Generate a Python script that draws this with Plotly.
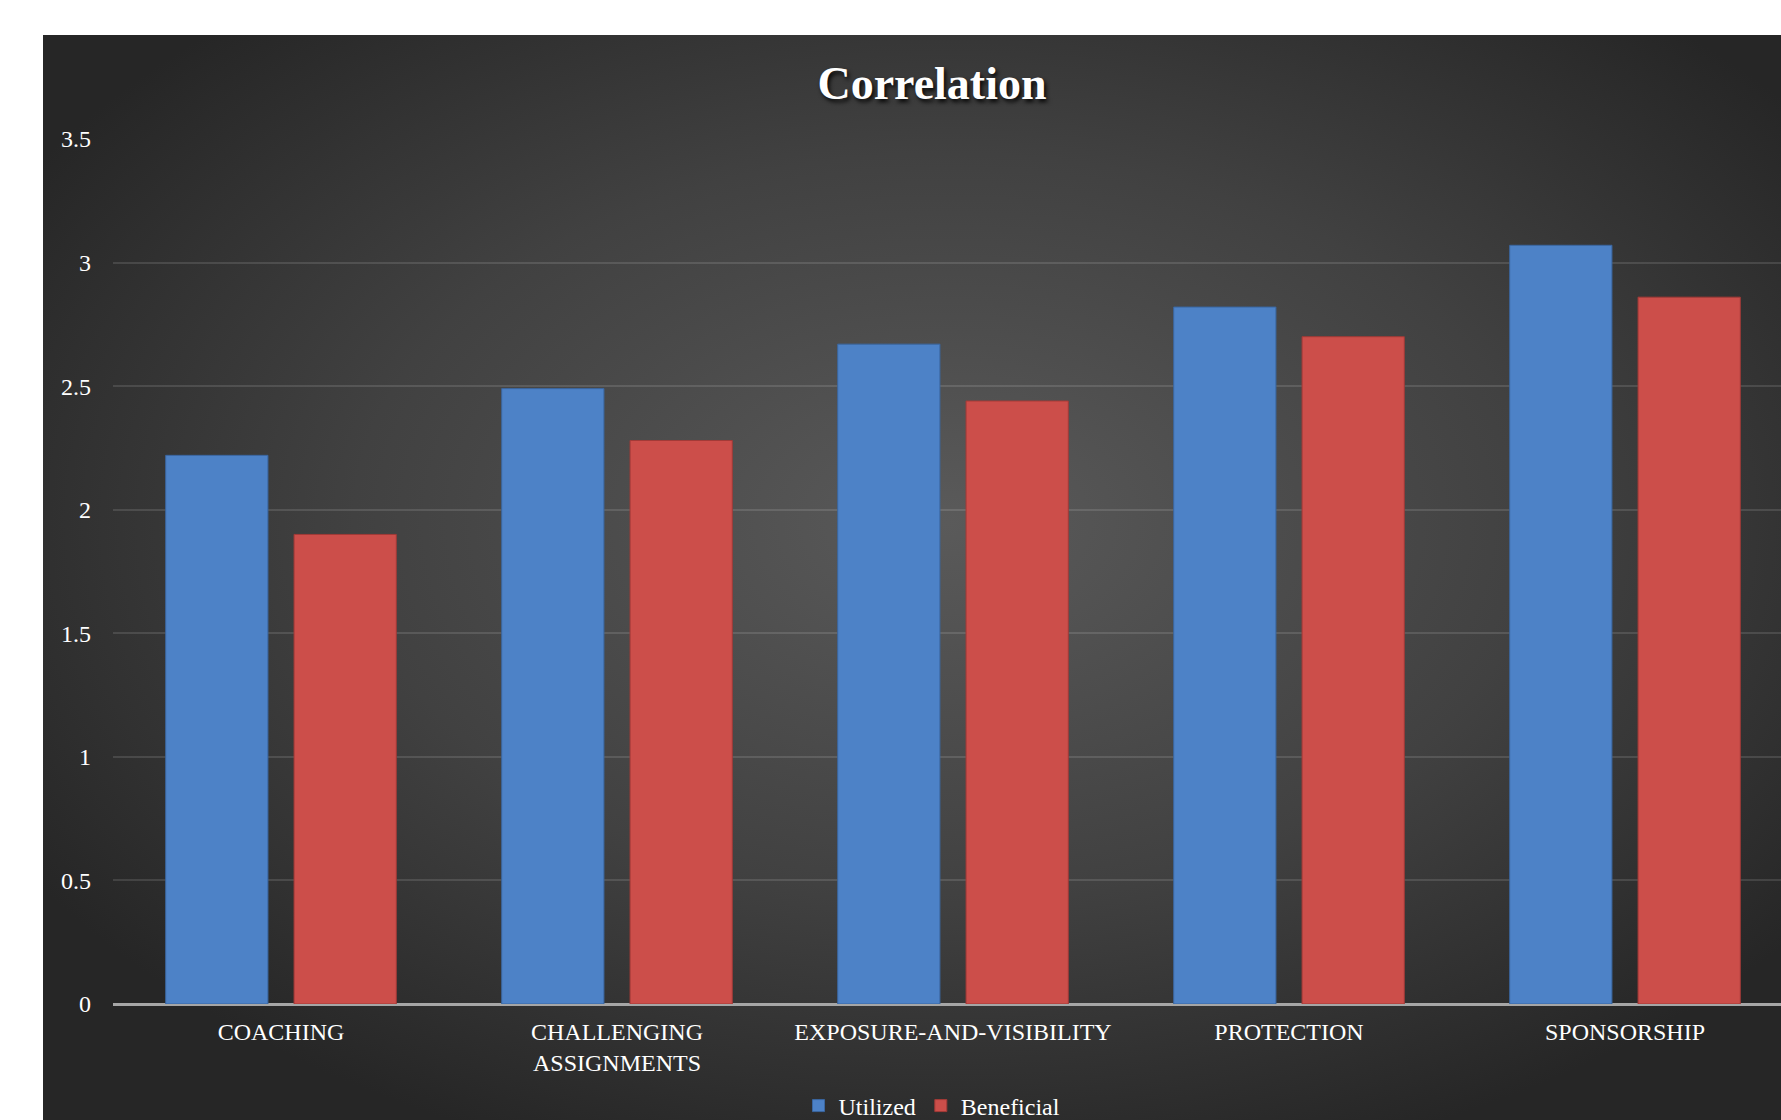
import base64
import plotly.graph_objects as go

categories = ["COACHING", "CHALLENGING<br>ASSIGNMENTS", "EXPOSURE-AND-VISIBILITY", "PROTECTION", "SPONSORSHIP"]
utilized = [2.22, 2.49, 2.67, 2.82, 3.07]
beneficial = [1.90, 2.28, 2.44, 2.70, 2.86]
y_ticks = [0, 0.5, 1, 1.5, 2, 2.5, 3, 3.5]

W, H = 1781, 1120
ML, MR, MT, MB = 113, 0, 139, 116
pw, ph = W - ML - MR, H - MT - MB

svg = (
    '<svg xmlns="http://www.w3.org/2000/svg" width="1000" height="1000" preserveAspectRatio="none">'
    '<defs><radialGradient id="g" cx="0.52" cy="0.45" r="0.62">'
    '<stop offset="0" stop-color="#5a5a5a"/><stop offset="0.55" stop-color="#414141"/>'
    '<stop offset="1" stop-color="#262626"/></radialGradient></defs>'
    '<rect width="1000" height="1000" fill="url(#g)"/></svg>'
)
svg_uri = "data:image/svg+xml;base64," + base64.b64encode(svg.encode()).decode()

font_fam = "Liberation Serif, Times New Roman, serif"

fig = go.Figure()
fig.add_trace(go.Bar(
    x=categories, y=utilized, name="Utilized",
    marker=dict(color="#4d82c7", line=dict(color="#3a66a0", width=1)),
))
fig.add_trace(go.Bar(
    x=categories, y=beneficial, name="Beneficial",
    marker=dict(color="#cc4e4a", line=dict(color="#a33a37", width=1)),
))

panel_left, panel_top = 43, 35
fig.add_layout_image(dict(
    source=svg_uri, xref="paper", yref="paper",
    x=(panel_left - ML) / pw, y=1 + (MT - panel_top) / ph,
    sizex=(W - panel_left) / pw, sizey=(H - panel_top) / ph,
    sizing="stretch", xanchor="left", yanchor="top", layer="below",
))

fig.update_layout(
    width=W, height=H,
    margin=dict(l=ML, r=MR, t=MT, b=MB, pad=0, autoexpand=False),
    paper_bgcolor="white", plot_bgcolor="rgba(0,0,0,0)",
    barmode="group", bargap=0.236, bargroupgap=0.2035,
    font=dict(family=font_fam, color="white", size=24),
    title=dict(
        text="<b>Correlation</b>", x=(932 - ML) / pw, xref="paper", xanchor="center",
        y=1 - 83 / H, yref="container", yanchor="middle",
        font=dict(family=font_fam, size=46, color="white", shadow="2px 3px 4px rgba(0,0,0,0.9)"),
    ),
    showlegend=True,
    legend=dict(
        orientation="h", x=(932 - ML) / pw, xanchor="center", y=(1004 - 1106) / ph, yanchor="middle",
        yref="paper", bgcolor="rgba(0,0,0,0)", font=dict(size=24, color="white", family=font_fam),
        itemwidth=30, traceorder="normal",
    ),
    xaxis=dict(
        range=[-0.5, -0.5 + pw / 336.0], showgrid=False, ticks="", showline=False,
        tickfont=dict(size=24, color="white", family=font_fam), ticklabelstandoff=11,
        zeroline=False, automargin=False,
    ),
    yaxis=dict(
        range=[0, 3.5], tickvals=y_ticks, ticktext=[f"{v:g}" for v in y_ticks],
        showgrid=True, gridcolor="rgba(255,255,255,0.12)", gridwidth=1.5,
        zeroline=True, zerolinecolor="#a6a6a6", zerolinewidth=2.5,
        ticks="", tickfont=dict(size=24, color="white", family=font_fam), ticklabelstandoff=21,
        showline=False, automargin=False,
    ),
)

fig.write_html("out.html")
